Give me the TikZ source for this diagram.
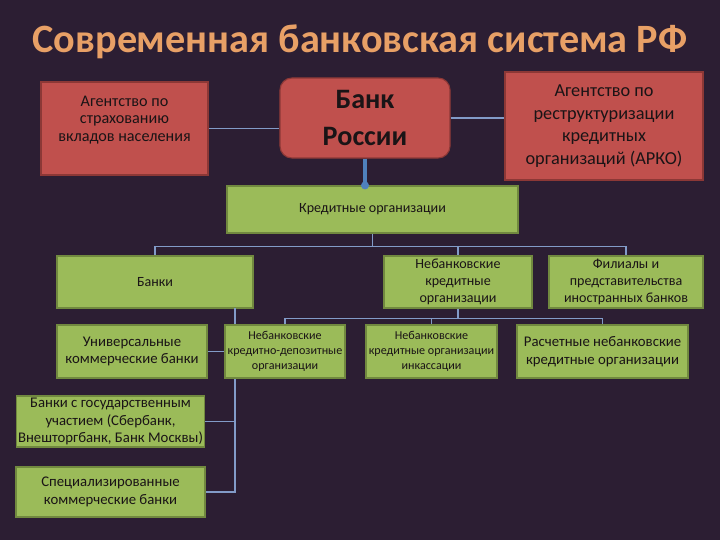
\documentclass[tikz,border=0pt]{standalone}
\usepackage{fontspec}
\setmainfont{Carlito}
\definecolor{bgpurple}{RGB}{44,30,51}
\definecolor{titleorange}{RGB}{232,160,102}
\definecolor{redfill}{RGB}{192,80,77}
\definecolor{redline}{RGB}{140,56,54}
\definecolor{greenfill}{RGB}{155,187,89}
\definecolor{greenline}{RGB}{113,137,63}
\definecolor{boxtext}{RGB}{26,20,22}
\definecolor{linkblue}{RGB}{130,155,200}
\definecolor{stemblue}{RGB}{79,129,189}

\begin{document}
\begin{tikzpicture}[x=0.025cm, y=-0.025cm,
    redbox/.style = {draw=redline, fill=redfill, line width=0.8pt, text=boxtext, align=center, inner sep=1pt},
    greenbox/.style = {draw=greenline, fill=greenfill, line width=0.8pt, text=boxtext, align=center, inner sep=1pt},
    small/.style = {font=\fontsize{10}{12}\selectfont},
    tiny/.style = {font=\fontsize{8.6}{10.6}\selectfont},
    link/.style = {draw=linkblue, line width=1pt}]
    \fill[bgpurple] (0,0) rectangle (720,540);
    \useasboundingbox (0,0) rectangle (720,540);

    \node[text=titleorange, font=\fontsize{28.6}{32}\bfseries\selectfont] (title) at (360,42) {Современная банковская система РФ};

    % top row
    \node[redbox, minimum width=4.175cm, minimum height=2.325cm, text depth=0.5cm, font=\fontsize{11.5}{12.4}\selectfont] (asv) at (124.5,128.5) {Агентство по\\страхованию\\вкладов населения};
    \node[redbox, rounded corners=0.3cm, minimum width=4.25cm, minimum height=2cm, font=\fontsize{20}{26}\bfseries\selectfont] (cbr) at (365,118) {Банк\\России};
    \node[redbox, minimum width=4.95cm, minimum height=2.7cm, font=\fontsize{13}{16}\selectfont] (arko) at (604,126) {Агентство по\\реструктуризации\\кредитных\\организаций (АРКО)};

    \node[greenbox, small, minimum width=7.275cm, minimum height=1.175cm] (ko) at (372.5,209.5) {Кредитные организации};

    % second row
    \node[greenbox, small, minimum width=4.9cm, minimum height=1.3cm] (banks) at (155,282) {Банки};
    \node[greenbox, small, minimum width=3.7cm, minimum height=1.3cm] (nko) at (458,282) {Небанковские\\кредитные\\организации};
    \node[greenbox, small, minimum width=3.85cm, minimum height=1.3cm] (fil) at (626,282) {Филиалы и\\представительства\\иностранных банков};

    % lines under the boxes
    \draw[link] (asv.east) -- (asv.east -| cbr.west);
    \draw[link] (cbr.east) -- (cbr.east -| arko.west);
    \draw[link] (ko.south) -- ++(0,13) coordinate (kofork);
    \draw[link] (kofork) -| (banks.north);
    \draw[link] (kofork) -| (nko.north);
    \draw[link] (kofork) -| (fil.north);
    \coordinate (bstem) at (235,308);
    \draw[link] (nko.south) -- ++(0,10) coordinate (nkofork);

    % third row
    \node[greenbox, font=\fontsize{10.5}{12.6}\selectfont, minimum width=3.75cm, minimum height=1.325cm] (univ) at (132,351.5) {Универсальные\\коммерческие банки};
    \node[greenbox, font=\fontsize{10.5}{12.6}\selectfont, minimum width=4.675cm, minimum height=1.275cm] (gos) at (110.5,421.5) {Банки с государственным\\участием (Сбербанк,\\Внешторгбанк, Банк Москвы)};
    \node[greenbox, font=\fontsize{10.5}{12.6}\selectfont, minimum width=4.725cm, minimum height=1.25cm] (spec) at (110.5,492) {Специализированные\\коммерческие банки};
    \draw[link] (bstem) |- (univ.east);
    \draw[link] (bstem) |- (gos.east);
    \draw[link] (bstem) |- (spec.east);
    \draw[link] (nkofork) -| (285,325);
    \draw[link] (nkofork) -| (431.5,325);
    \draw[link] (nkofork) -| (602.5,325);
    \node[greenbox, tiny, minimum width=3cm, minimum height=1.325cm] (nkd) at (285,351.5) {Небанковские\\кредитно-депозитные\\организации};
    \node[greenbox, tiny, minimum width=3.275cm, minimum height=1.325cm] (ink) at (431.5,351.5) {Небанковские\\кредитные организации\\инкассации};
    \node[greenbox, font=\fontsize{10.5}{12.6}\selectfont, minimum width=4.275cm, minimum height=1.325cm] (rasch) at (602.5,351.5) {Расчетные небанковские\\кредитные организации};

    % Bank of Russia to credit organisations
    \draw[stemblue, line width=2.5pt] (cbr.south) -- (cbr.south |- ko.north);
    \fill[stemblue] (cbr.south |- ko.north) circle (4);
\end{tikzpicture}
\end{document}
